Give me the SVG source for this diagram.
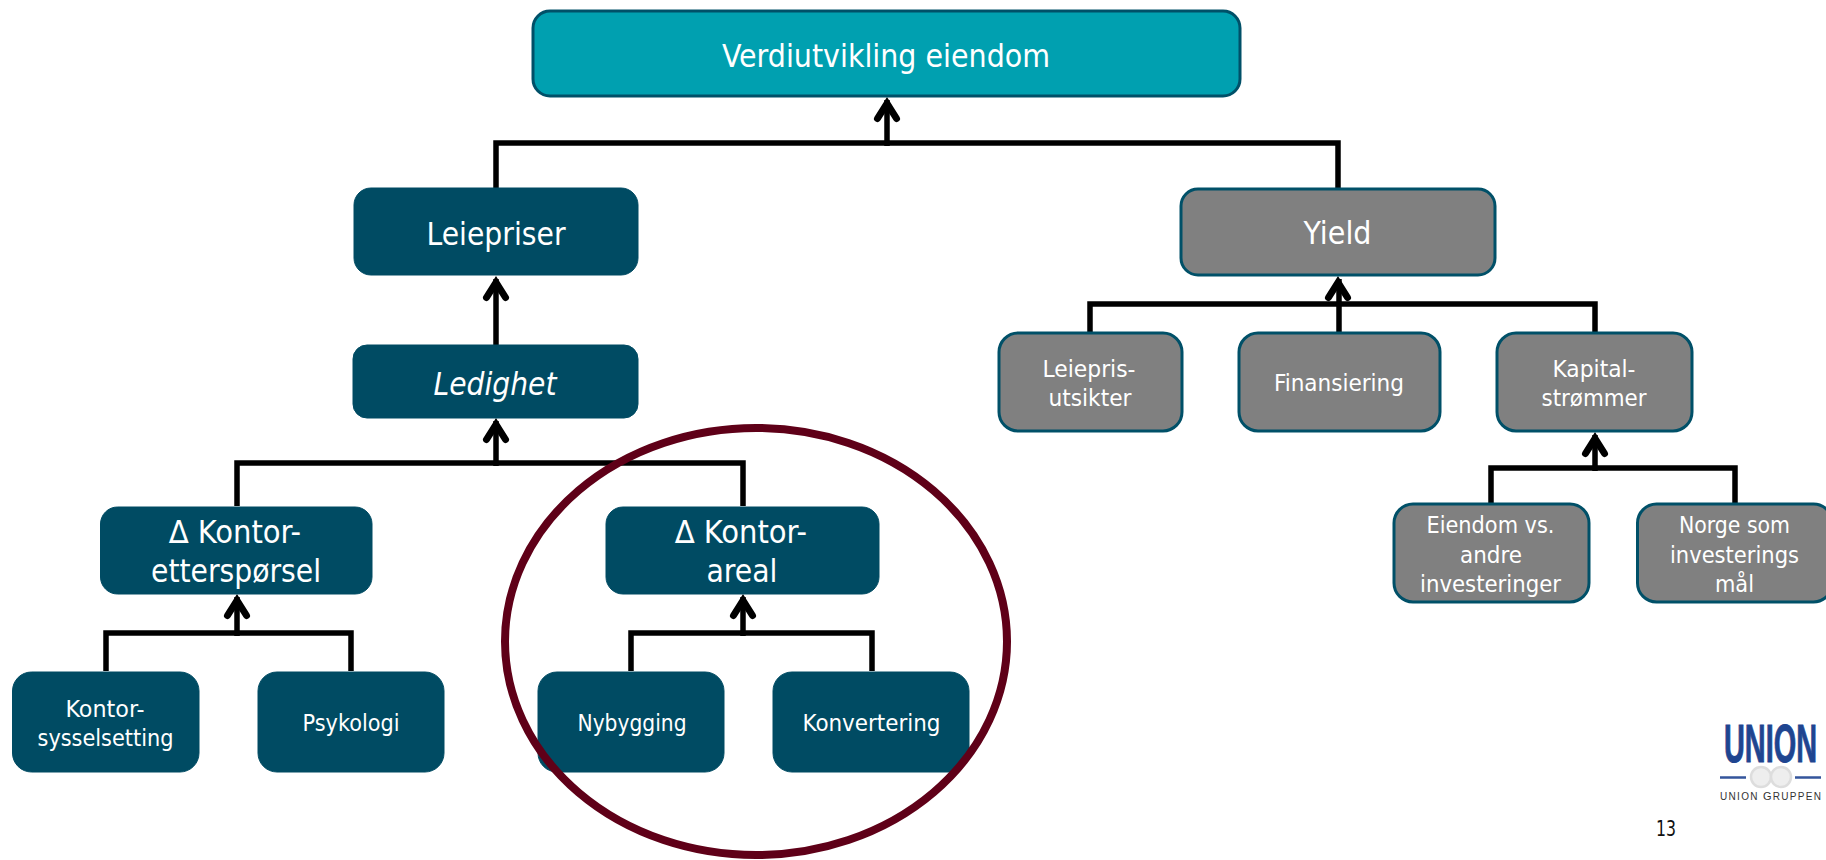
<svg xmlns="http://www.w3.org/2000/svg" width="1826" height="860" viewBox="0 0 1826 860">
<style>
text{font-family:"DejaVu Sans Condensed","DejaVu Sans",sans-serif;fill:#fff;text-anchor:middle}
.b{fill:#004b63;stroke:#004b63;stroke-width:1}
.g{fill:#808080;stroke:#005068;stroke-width:3}
.t{fill:#00a0b0;stroke:#005068;stroke-width:3}
.l{font-size:32px}.s{font-size:23.500px}
.c{fill:none;stroke:#000;stroke-width:5.500}
.a{fill:none;stroke:#000;stroke-width:7;stroke-linecap:round;stroke-linejoin:miter}
</style>
<defs><path id="h" class="a" d="M-9.500 21.500L0 6.500L9.500 21.500"/></defs>
<g id="connectors">
<path class="c" d="M887 146V100M496 188V143H1338V188"/>
<use href="#h" x="887" y="97"/>
<path class="c" d="M496 345V279"/><use href="#h" x="496" y="276"/>
<path class="c" d="M496 466V421M237 506V463H743V506"/><use href="#h" x="496" y="418"/>
<path class="c" d="M237 636V597M106 671V633H351V671"/><use href="#h" x="237" y="594"/>
<path class="c" d="M743 636V597M631 671V633H872V671"/><use href="#h" x="743" y="594"/>
<path class="c" d="M1339 332V279M1090 332V304H1595V332"/><use href="#h" x="1338" y="276"/>
<path class="c" d="M1595 471V435M1491 503V468H1735V503"/><use href="#h" x="1595" y="432"/>
</g>
<g id="n-top"><rect class="t" x="533" y="11" width="707" height="85" rx="17"/><text class="l" x="886" y="67" textLength="328" lengthAdjust="spacingAndGlyphs">Verdiutvikling eiendom</text></g>
<g id="n-leiepriser"><rect class="b" x="354" y="188" width="284" height="87" rx="17"/><text class="l" x="496" y="245" textLength="139" lengthAdjust="spacingAndGlyphs">Leiepriser</text></g>
<g id="n-yield"><rect class="g" x="1181" y="189" width="314" height="86" rx="17"/><text class="l" x="1337.500" y="244" textLength="68" lengthAdjust="spacingAndGlyphs">Yield</text></g>
<g id="n-ledighet"><rect class="b" x="353" y="345" width="285" height="73" rx="14"/><text class="l" x="495" y="395" font-style="italic" textLength="123" lengthAdjust="spacingAndGlyphs">Ledighet</text></g>
<g id="n-leiepris"><rect class="g" x="999" y="333" width="183" height="98" rx="19"/><text class="s" x="1089" y="377" textLength="93" lengthAdjust="spacingAndGlyphs">Leiepris-</text><text class="s" x="1090" y="406" textLength="83" lengthAdjust="spacingAndGlyphs">utsikter</text></g>
<g id="n-finans"><rect class="g" x="1239" y="333" width="201" height="98" rx="19"/><text class="s" x="1339" y="391" textLength="130" lengthAdjust="spacingAndGlyphs">Finansiering</text></g>
<g id="n-kapital"><rect class="g" x="1497" y="333" width="195" height="98" rx="19"/><text class="s" x="1594" y="377" textLength="83" lengthAdjust="spacingAndGlyphs">Kapital-</text><text class="s" x="1594" y="406" textLength="105" lengthAdjust="spacingAndGlyphs">strømmer</text></g>
<g id="n-ketter"><rect class="b" x="100.500" y="507" width="271.500" height="87" rx="17"/><text class="l" x="235" y="543" textLength="132" lengthAdjust="spacingAndGlyphs">∆ Kontor-</text><text class="l" x="236" y="582" textLength="170" lengthAdjust="spacingAndGlyphs">etterspørsel</text></g>
<g id="n-kareal"><rect class="b" x="606" y="507" width="273" height="87" rx="17"/><text class="l" x="741" y="543" textLength="132" lengthAdjust="spacingAndGlyphs">∆ Kontor-</text><text class="l" x="742" y="582" textLength="71" lengthAdjust="spacingAndGlyphs">areal</text></g>
<g id="n-eiendom"><rect class="g" x="1394" y="504" width="195" height="98" rx="19"/><text class="s" x="1490.500" y="533" textLength="128" lengthAdjust="spacingAndGlyphs">Eiendom vs.</text><text class="s" x="1491" y="563" textLength="62" lengthAdjust="spacingAndGlyphs">andre</text><text class="s" x="1490.500" y="592" textLength="141" lengthAdjust="spacingAndGlyphs">investeringer</text></g>
<g id="n-norge"><rect class="g" x="1637.500" y="504" width="195" height="98" rx="19"/><text class="s" x="1734.500" y="533" textLength="111" lengthAdjust="spacingAndGlyphs">Norge som</text><text class="s" x="1734.500" y="563" textLength="129" lengthAdjust="spacingAndGlyphs">investerings</text><text class="s" x="1734.500" y="592" textLength="39" lengthAdjust="spacingAndGlyphs">mål</text></g>
<g id="n-syssel"><rect class="b" x="12.500" y="672" width="186.500" height="100" rx="19"/><text class="s" x="105" y="717" textLength="79" lengthAdjust="spacingAndGlyphs">Kontor-</text><text class="s" x="105.500" y="746" textLength="136" lengthAdjust="spacingAndGlyphs">sysselsetting</text></g>
<g id="n-psyk"><rect class="b" x="258" y="672" width="186" height="100" rx="19"/><text class="s" x="351" y="731" textLength="97" lengthAdjust="spacingAndGlyphs">Psykologi</text></g>
<g id="n-nybygg"><rect class="b" x="538" y="672" width="186" height="100" rx="19"/><text class="s" x="632" y="731" textLength="109" lengthAdjust="spacingAndGlyphs">Nybygging</text></g>
<g id="n-konv"><rect class="b" x="773" y="672" width="196" height="100" rx="19"/><text class="s" x="871.500" y="731" textLength="138" lengthAdjust="spacingAndGlyphs">Konvertering</text></g>
<ellipse id="ring" cx="756" cy="641.500" rx="251" ry="213.500" fill="none" stroke="#5f0018" stroke-width="8"/>
<g id="logo">
<text transform="translate(1770.500 762) scale(.545 1)" style="font-family:'Liberation Sans',sans-serif;font-weight:700;fill:#1f4590;stroke:#1f4590;stroke-width:1" font-size="53">UNION</text>
<path d="M1720 777.500H1746M1795 777.500H1821" stroke="#34559c" stroke-width="2.500" fill="none"/>
<circle cx="1761" cy="777" r="10" fill="#eee" stroke="#ddd" stroke-width="2.500"/><circle cx="1781" cy="777" r="10" fill="#eee" stroke="#ddd" stroke-width="2.500"/>
<text x="1770.500" y="800" style="font-family:'Liberation Sans',sans-serif;fill:#333" font-size="10" textLength="101" lengthAdjust="spacing">UNION <tspan font-size="11">G</tspan>RUPPEN</text>
</g>
<text id="page" x="1666" y="836" style="font-family:'DejaVu Sans Condensed',sans-serif;fill:#111" font-size="22" textLength="20" lengthAdjust="spacingAndGlyphs">13</text>
</svg>
